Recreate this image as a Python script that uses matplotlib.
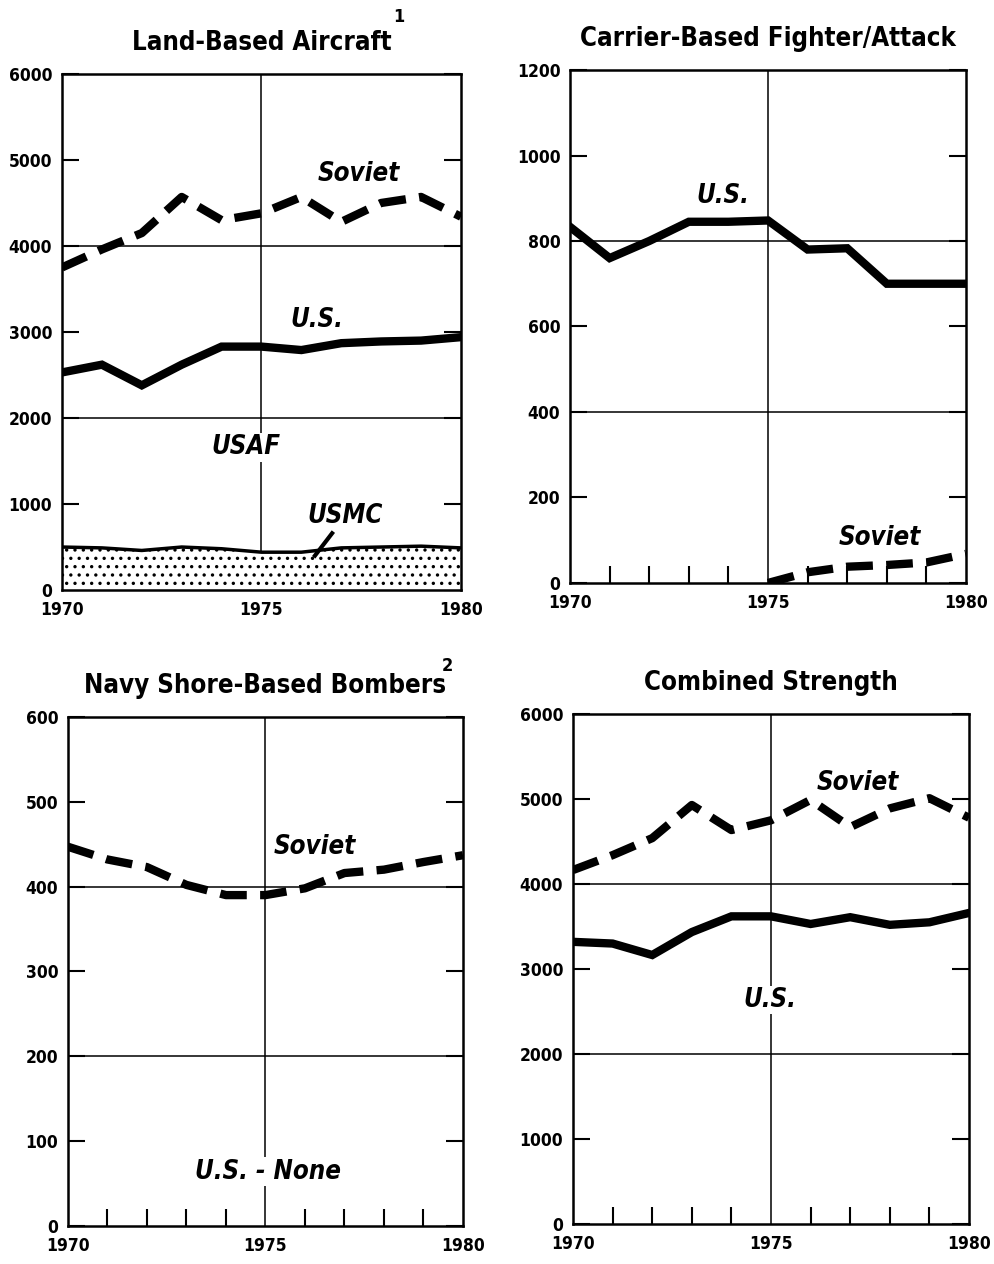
# four-panel aircraft strength comparison, 1970-1980

import matplotlib
matplotlib.use("Agg")
import matplotlib.pyplot as plt
from matplotlib.ticker import FixedLocator

plt.rcParams['font.family'] = ['Liberation Sans Narrow', 'DejaVu Sans']
plt.rcParams['font.stretch'] = 'condensed'
plt.rcParams['font.weight'] = 'bold'
plt.rcParams['hatch.linewidth'] = 1.2

years = list(range(1970, 1981))

# land-based aircraft
land_soviet = [3750, 3960, 4150, 4570, 4300, 4380, 4570, 4280, 4500, 4570, 4340]
land_us = [2530, 2620, 2380, 2620, 2830, 2830, 2790, 2870, 2890, 2900, 2940]
land_usmc = [500, 490, 460, 500, 480, 440, 440, 490, 500, 510, 490]

# carrier-based fighter/attack
carrier_us = [833, 760, 800, 845, 845, 848, 780, 783, 700, 700, 700]
carrier_years_soviet = [1975, 1976, 1977, 1978, 1979, 1980]
carrier_soviet = [0, 25, 38, 42, 48, 68]

# navy shore-based bombers
navy_soviet = [447, 432, 423, 402, 390, 390, 398, 416, 420, 429, 437]

# combined strength
comb_soviet = [4165, 4340, 4540, 4930, 4635, 4750, 4990, 4670, 4890, 5010, 4780]
comb_us = [3320, 3300, 3165, 3435, 3620, 3620, 3530, 3610, 3520, 3550, 3660]

fig = plt.figure(figsize=(9.95, 12.64), dpi=100)

DASH = (3.2, 1.6)
LW = 6


def setup(ax, ymax, step, grid_vals, title):
    ax.set_xlim(1970, 1980)
    ax.set_ylim(0, ymax)
    ax.set_xticks([1970, 1975, 1980])
    ax.xaxis.set_minor_locator(FixedLocator([y for y in years if y not in (1970, 1975, 1980)]))
    ax.set_yticks(list(range(0, ymax + 1, step)))
    ax.tick_params(axis='x', which='major', length=0, pad=8, labelsize=12.5)
    ax.tick_params(axis='x', which='minor', direction='in', length=12, width=1.5, top=False)
    ax.tick_params(axis='y', which='major', direction='in', length=12, width=1.5,
                   left=True, right=True, pad=7, labelsize=12.5)
    for lab in ax.get_xticklabels() + ax.get_yticklabels():
        lab.set_fontweight('bold')
    for s in ax.spines.values():
        s.set_linewidth(1.8)
    for g in grid_vals:
        ax.axhline(g, color='black', lw=1.1, zorder=1)
    ax.axvline(1975, color='black', lw=1.1, zorder=1)
    ax.set_title(title, fontsize=18.5, fontweight='bold', pad=17)


def label(ax, x, y, s, bg=False):
    kw = dict(fontsize=18.5, fontweight='bold', style='italic', ha='center', va='center', zorder=5)
    if bg:
        kw['bbox'] = dict(facecolor='white', edgecolor='none', pad=1)
    ax.text(x, y, s, **kw)


# panel 1
ax1 = fig.add_axes([0.0623, 0.5332, 0.401, 0.4083])
setup(ax1, 6000, 1000, [2000, 4000], 'Land-Based Aircraft')
ax1.text(0.845, 1.1, '1', transform=ax1.transAxes, fontsize=13, fontweight='bold', ha='center')
ax1.fill_between(years, 0, land_usmc, facecolor='white', edgecolor='black', hatch='..',
                 linewidth=0, zorder=2)
ax1.plot(years, land_usmc, color='black', lw=2.5, zorder=3)
ax1.plot(years, land_us, color='black', lw=LW, solid_joinstyle='miter', zorder=4)
ax1.plot(years, land_soviet, color='black', lw=LW, dashes=DASH, zorder=4)
label(ax1, 1977.45, 4840, 'Soviet')
label(ax1, 1976.4, 3140, 'U.S.')
label(ax1, 1974.6, 1660, 'USAF', bg=True)
label(ax1, 1977.1, 860, 'USMC')
ax1.plot([1976.77, 1976.34], [660, 400], color='black', lw=3, zorder=5)

# panel 2
ax2 = fig.add_axes([0.5729, 0.5388, 0.398, 0.4058])
setup(ax2, 1200, 200, [400, 800], 'Carrier-Based Fighter/Attack')
ax2.plot(years, carrier_us, color='black', lw=LW, solid_joinstyle='miter', zorder=4)
ax2.plot(carrier_years_soviet, carrier_soviet, color='black', lw=LW, dashes=DASH, zorder=4)
label(ax2, 1973.86, 905, 'U.S.')
label(ax2, 1977.83, 105, 'Soviet')

# panel 3
ax3 = fig.add_axes([0.0683, 0.0301, 0.397, 0.4027])
setup(ax3, 600, 100, [200, 400], 'Navy Shore-Based Bombers')
ax3.text(0.96, 1.09, '2', transform=ax3.transAxes, fontsize=13, fontweight='bold', ha='center')
ax3.plot(years, navy_soviet, color='black', lw=LW, dashes=DASH, zorder=4)
label(ax3, 1976.25, 447, 'Soviet')
label(ax3, 1975.06, 64, 'U.S. - None', bg=True)

# panel 4
ax4 = fig.add_axes([0.5759, 0.0316, 0.398, 0.4035])
setup(ax4, 6000, 1000, [2000, 4000], 'Combined Strength')
ax4.plot(years, comb_us, color='black', lw=LW, solid_joinstyle='miter', zorder=4)
ax4.plot(years, comb_soviet, color='black', lw=LW, dashes=DASH, zorder=4)
label(ax4, 1977.2, 5190, 'Soviet')
label(ax4, 1974.97, 2635, 'U.S.', bg=True)

fig.savefig('out.png', dpi=100)
